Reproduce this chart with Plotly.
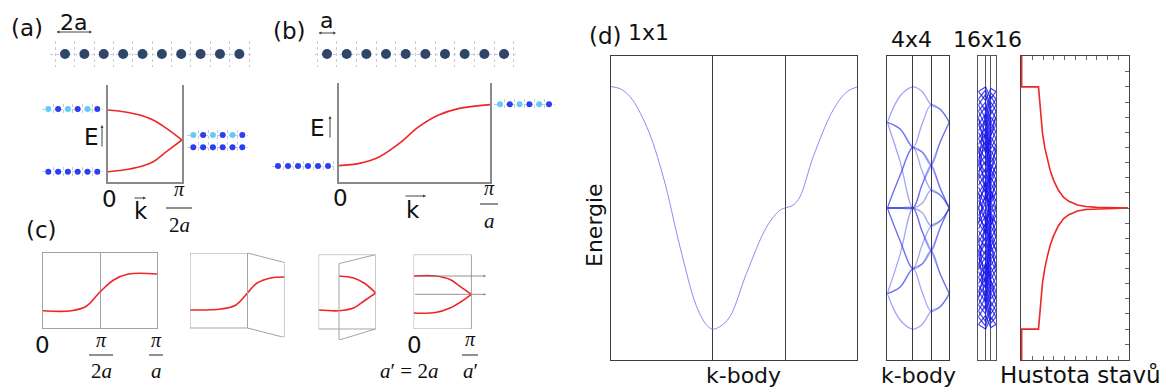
import plotly.graph_objects as go

W, H = 1162, 390
SANS = "DejaVu Sans"
SERIF = "Liberation Serif"
RED = "#ee2626"
NAVY = "#2f4668"
BLUE = "#2b3ff0"
CYAN = "#62cdf4"
GRID = "#c3ccd8"
COL = {"n": NAVY, "b": BLUE, "c": CYAN}

# ---------------- data ----------------
# (a) chain with period 2a : k in units of pi/2a, E in box units
a_k = [0, 0.207, 0.43, 0.61, 0.79, 1.0]
a_upper = [0.742, 0.725, 0.691, 0.639, 0.553, 0.433]
a_lower = [0.106, 0.124, 0.158, 0.209, 0.313, 0.433]
# (b) chain with period a : k in units of pi/a
b_k = [0, 0.137, 0.27, 0.40, 0.53, 0.66, 0.79, 1.0]
b_E = [0.167, 0.19, 0.257, 0.39, 0.558, 0.675, 0.74, 0.78]
# (c) band folding steps
c1_k = [0, 0.25, 0.38, 0.5, 0.62, 0.75, 1.0]
c1_E = [0.23, 0.23, 0.29, 0.48, 0.64, 0.72, 0.72]
c2_x = [0, 0.27, 0.40, 0.5, 0.583, 0.704, 0.8226]
c2_E = [0.24, 0.253, 0.307, 0.467, 0.60, 0.667, 0.68]
c3_x_low = [0, 0.179, 0.306, 0.398, 0.5]
c3_E_low = [0.255, 0.246, 0.282, 0.376, 0.484]
c3_x_up = [0.179, 0.306, 0.398, 0.5]
c3_E_up = [0.712, 0.685, 0.618, 0.484]
c4_k = [0, 0.191, 0.315, 0.407, 0.5]
c4_upper = [0.712, 0.712, 0.664, 0.567, 0.466]
c4_lower = [0.215, 0.222, 0.282, 0.363, 0.466]
# atom chains (colours of the atoms)
chain_main = ["n"] * 10
chain_alt = ["c", "b", "c", "b", "c", "b"]
chain_same = ["b"] * 6

# (d) 1x1 band along M-Gamma-X-M (path length in units of pi)
kpath_ticks = [1.414, 2.414]
d1_s = [0, 0.129, 0.267, 0.498, 0.728, 0.959, 1.19, 1.33, 1.412, 1.51, 1.65,
        1.88, 2.16, 2.344, 2.414, 2.528, 2.62, 2.805, 3.08, 3.27, 3.414]
d1_E = [4.01, 3.94, 3.68, 2.69, 1.03, -1.28, -3.26, -3.87, -4.0, -3.92, -3.59,
        -2.16, -0.62, -0.07, 0.0, 0.10, 0.37, 1.70, 3.24, 3.84, 4.0]

# 4x4 folded bands at M', mid, Gamma, mid, X', mid, M'
d4_s = [0, 0.707, 1.414, 1.914, 2.414, 2.914, 3.414]
d4_bands = [
    [-2.83, -3.70, -4.00, -3.85, -3.41, -3.26, -2.83],
    [0.00, -1.08, -2.00, -1.85, -1.41, -0.65, 0.00],
    [0.00, -1.08, -2.00, -1.23, -0.59, -0.43, 0.00],
    [0.00, 0.00, 0.00, 0.15, 0.59, 0.43, 0.00],
    [0.00, 0.00, 0.00, -0.15, -0.59, -0.43, 0.00],
    [-2.83, -2.61, -2.00, -1.85, -1.41, -2.18, -2.83],
    [-2.83, -2.61, -2.00, -2.77, -3.41, -3.26, -2.83],
    [2.83, 1.53, 0.00, 0.77, 1.41, 2.18, 2.83],
    [2.83, 2.61, 2.00, 2.77, 3.41, 3.26, 2.83],
    [2.83, 2.61, 2.00, 1.85, 1.41, 2.18, 2.83],
    [0.00, 0.00, 0.00, 0.77, 1.41, 0.65, 0.00],
    [0.00, 0.00, 0.00, -0.77, -1.41, -0.65, 0.00],
    [2.83, 3.70, 4.00, 3.85, 3.41, 3.26, 2.83],
    [0.00, 1.08, 2.00, 1.85, 1.41, 0.65, 0.00],
    [0.00, 1.08, 2.00, 1.23, 0.59, 0.43, 0.00],
    [-2.83, -1.53, 0.00, -0.77, -1.41, -2.18, -2.83],
]

# 16x16 folded bands at M', Gamma, X', M'
d16_s = [0, 1.414, 2.414, 3.414]
d16_bands = [
    [3.85, 4.00, 3.60, 3.85], [3.85, 3.55, 3.95, 3.85], [3.40, 3.75, 3.10, 3.40],
    [3.40, 2.95, 3.70, 3.40], [3.00, 3.35, 2.60, 3.00], [2.95, 2.50, 3.25, 2.95],
    [2.55, 2.90, 2.15, 2.55], [2.50, 2.05, 2.80, 2.50], [2.10, 2.45, 1.70, 2.10],
    [2.05, 1.60, 2.35, 2.05], [1.65, 2.00, 1.25, 1.65], [1.60, 1.15, 1.90, 1.60],
    [1.20, 1.55, 0.80, 1.20], [1.15, 0.70, 1.45, 1.15], [0.75, 1.10, 0.35, 0.75],
    [0.70, 0.25, 1.00, 0.70], [0.30, 0.65, -0.10, 0.30], [0.25, -0.15, 0.55, 0.25],
    [0.00, 0.35, 0.15, 0.00], [0.00, -0.35, -0.15, 0.00], [-0.25, 0.15, -0.55, -0.25],
    [-0.30, -0.65, 0.10, -0.30], [-0.70, -0.25, -1.00, -0.70], [-0.75, -1.10, -0.35, -0.75],
    [-1.15, -0.70, -1.45, -1.15], [-1.20, -1.55, -0.80, -1.20], [-1.60, -1.15, -1.90, -1.60],
    [-1.65, -2.00, -1.25, -1.65], [-2.05, -1.60, -2.35, -2.05], [-2.10, -2.45, -1.70, -2.10],
    [-2.50, -2.05, -2.80, -2.50], [-2.55, -2.90, -2.15, -2.55], [-2.95, -2.50, -3.25, -2.95],
    [-3.00, -3.35, -2.60, -3.00], [-3.40, -2.95, -3.70, -3.40], [-3.40, -3.75, -3.10, -3.40],
    [-3.85, -3.55, -3.95, -3.85], [-3.85, -4.00, -3.60, -3.85],
    [2.00, 0.50, 1.20, 2.00], [-2.00, -0.50, -1.20, -2.00], [1.00, 2.60, 0.20, 1.00],
    [-1.00, -2.60, -0.20, -1.00], [0.50, -0.50, 0.30, 0.50], [-0.50, 0.50, -0.30, -0.50],
    [0.00, 0.90, -0.60, 0.00], [0.00, -0.90, 0.60, 0.00], [3.00, 1.80, 2.40, 3.00],
    [-3.00, -1.80, -2.40, -3.00], [1.40, 3.20, 0.90, 1.40], [-1.40, -3.20, -0.90, -1.40],
    [3.60, 3.20, 3.80, 3.60], [3.60, 3.90, 3.30, 3.60], [3.20, 2.70, 3.50, 3.20],
    [3.20, 3.50, 2.80, 3.20], [2.75, 2.30, 3.00, 2.75], [2.75, 3.10, 2.40, 2.75],
    [2.30, 1.85, 2.60, 2.30], [2.30, 2.65, 1.95, 2.30], [1.85, 1.40, 2.15, 1.85],
    [1.85, 2.20, 1.50, 1.85], [1.40, 0.95, 1.70, 1.40], [1.40, 1.75, 1.05, 1.40],
    [0.95, 0.50, 1.25, 0.95], [0.95, 1.30, 0.60, 0.95], [0.50, 0.10, 0.80, 0.50],
    [0.50, 0.85, 0.15, 0.50],
    [-3.60, -3.20, -3.80, -3.60], [-3.60, -3.90, -3.30, -3.60], [-3.20, -2.70, -3.50, -3.20],
    [-3.20, -3.50, -2.80, -3.20], [-2.75, -2.30, -3.00, -2.75], [-2.75, -3.10, -2.40, -2.75],
    [-2.30, -1.85, -2.60, -2.30], [-2.30, -2.65, -1.95, -2.30], [-1.85, -1.40, -2.15, -1.85],
    [-1.85, -2.20, -1.50, -1.85], [-1.40, -0.95, -1.70, -1.40], [-1.40, -1.75, -1.05, -1.40],
    [-0.95, -0.50, -1.25, -0.95], [-0.95, -1.30, -0.60, -0.95], [-0.50, -0.10, -0.80, -0.50],
    [-0.50, -0.85, -0.15, -0.50],
]

# density of states (E, DOS)
dos_E_up = [5.02, 4.0, 4.0, 3.24, 2.48, 2.0, 1.59, 1.25, 0.93, 0.60, 0.36, 0.22, 0.10, 0.05, 0.02, 0.0]
dos_D_up = [0, 0, 0.157, 0.176, 0.194, 0.215, 0.24, 0.265, 0.296, 0.34, 0.389, 0.44, 0.52, 0.60, 0.70, 0.99]
dos_E_dn = [-0.0, -0.02, -0.05, -0.10, -0.22, -0.36, -0.60, -0.93, -1.25, -1.59, -2.0, -2.48, -3.24, -4.0, -4.0, -5.02]
dos_D_dn = [0.99, 0.70, 0.60, 0.52, 0.44, 0.389, 0.34, 0.296, 0.265, 0.24, 0.215, 0.194, 0.176, 0.157, 0, 0]

# ---------------- figure scaffolding ----------------
fig = go.Figure()
layout = dict(width=W, height=H, margin=dict(l=0, r=0, t=0, b=0),
              paper_bgcolor="white", plot_bgcolor="white", showlegend=False,
              annotations=[], shapes=[])
BASE = dict(showgrid=False, zeroline=False, showticklabels=False, ticks="",
            showline=False, fixedrange=True)
counter = [0]


def px_x(x):
    return x / W


def px_y(y):
    return 1 - y / H


def new_axes(box, xr, yr, xo=None, yo=None):
    x0, y0, x1, y1 = box
    counter[0] += 1
    n = counter[0]
    sfx = "" if n == 1 else str(n)
    xa = dict(BASE, domain=[px_x(x0), px_x(x1)], range=xr, anchor="y" + sfx)
    ya = dict(BASE, domain=[px_y(y1), px_y(y0)], range=yr, anchor="x" + sfx)
    if xo:
        xa.update(xo)
    if yo:
        ya.update(yo)
    layout["xaxis" + sfx] = xa
    layout["yaxis" + sfx] = ya
    return "x" + sfx, "y" + sfx


def line_trace(x, y, xa, ya, color=RED, width=1.6, shape="spline"):
    fig.add_trace(go.Scatter(x=x, y=y, mode="lines", xaxis=xa, yaxis=ya,
                             line=dict(color=color, width=width, shape=shape),
                             hoverinfo="skip"))


def chain(first, spacing, yc, colors, size, half_h, pad):
    n = len(colors)
    x0 = first - pad * spacing
    x1 = first + (n - 1 + pad) * spacing
    xr = [-pad, n - 1 + pad]
    grid = dict(showgrid=True, gridcolor=GRID, griddash="dot", gridwidth=1)
    xa, ya = new_axes((x0, yc - half_h, x1, yc + half_h), xr, [-1, 1],
                      xo=dict(grid, tickvals=[i - 0.5 for i in range(n + 1)]),
                      yo=dict(grid, tickvals=[0]))
    fig.add_trace(go.Scatter(x=list(range(n)), y=[0] * n, mode="markers",
                             xaxis=xa, yaxis=ya, hoverinfo="skip",
                             marker=dict(size=size, color=[COL[c] for c in colors],
                                         line=dict(width=0))))
    return xa, ya


def txt(x, y, s, size=21, family=SANS, angle=0, color="#111"):
    layout["annotations"].append(dict(
        x=px_x(x), y=px_y(y), xref="paper", yref="paper", text=s, showarrow=False,
        font=dict(family=family, size=size, color=color), xanchor="center",
        yanchor="middle", textangle=angle))


def arrow(x, y, ax, ay, both=False, color="#444", size=0.6):
    layout["annotations"].append(dict(
        x=px_x(x), y=px_y(y), xref="paper", yref="paper", ax=ax, ay=ay,
        showarrow=True, text="", arrowhead=2, arrowsize=size, arrowwidth=1,
        arrowcolor=color, arrowside="end+start" if both else "end",
        standoff=0, startstandoff=0))


def frac(xc, y_num, y_bar, y_den, half, num, den, size=20):
    txt(xc, y_num, num, size, SERIF)
    layout["shapes"].append(dict(type="line", xref="paper", yref="paper",
                                 x0=px_x(xc - half), x1=px_x(xc + half),
                                 y0=px_y(y_bar), y1=px_y(y_bar),
                                 line=dict(color="#222", width=1)))
    txt(xc, y_den, den, size + 1, SERIF)


AX_A = dict(showline=True, linecolor="#8a8a8a", linewidth=1.6)
BOX_C = dict(showline=True, mirror=True, linecolor="#a3a3a3", linewidth=1)
FRAME_C = dict(color="#a3a3a3", width=1)

# ---------------- panel (a) ----------------
chain(65, 19.37, 54, chain_main, 10, 13, 0.78)
chain(48.3, 9.8, 109, chain_alt, 6, 5, 0.6)
chain(48.3, 9.8, 171.7, chain_same, 6, 5, 0.6)
chain(193.3, 9.8, 135, chain_alt, 6, 5, 0.6)
chain(193.3, 9.8, 147.3, chain_same, 6, 5, 0.6)
xa, ya = new_axes((108, 85, 182, 182), [0, 1], [0, 1], xo=AX_A,
                  yo=dict(AX_A, mirror=True))
line_trace(a_k, a_upper, xa, ya)
line_trace(a_k, a_lower, xa, ya)
txt(27, 28, "(a)", 23)
txt(73, 22, "2a", 22)
arrow(92, 32, -37, 0, both=True)
txt(91, 137, "E", 23)
arrow(102, 125, 0, 23)
txt(109, 199, "0", 23)
txt(141, 211, "k", 23)
arrow(146, 198, -13, 0)
frac(179, 189, 208, 225, 13, "<i>π</i>", "2<i>a</i>")

# ---------------- panel (b) ----------------
chain(327, 19.67, 54, chain_main, 10, 13, 0.62)
chain(278, 10, 166, chain_same, 6, 5, 0.6)
chain(500, 9.8, 104.3, chain_alt, 6, 5, 0.6)
xa, ya = new_axes((338.7, 82.7, 490, 182.3), [0, 1], [0, 1], xo=AX_A,
                  yo=dict(AX_A, mirror=True))
line_trace(b_k, b_E, xa, ya)
txt(289, 31, "(b)", 23)
txt(326, 20, "a", 22)
arrow(336, 33, -19, 0, both=True)
txt(317, 128, "E", 23)
arrow(330, 116, 0, 23)
txt(340, 198, "0", 23)
txt(413, 210, "k", 23)
arrow(426, 196, -22, 0)
frac(489, 188, 204, 221, 9, "<i>π</i>", "<i>a</i>")

# ---------------- panel (c) ----------------
txt(41, 230, "(c)", 23)
xa, ya = new_axes((43, 253, 157, 328), [0, 1], [0, 1],
                  xo=dict(BOX_C, showgrid=True, tickvals=[0.5], gridcolor="#a3a3a3", gridwidth=1),
                  yo=BOX_C)
line_trace(c1_k, c1_E, xa, ya)

FOLD2 = 0.8226
SHIFT2 = 0.1267
xa, ya = new_axes((190, 253, 284.6, 337.5), [0, FOLD2], [-SHIFT2, 1])
layout["shapes"].append(dict(type="rect", xref=xa, yref=ya, x0=0, x1=0.5, y0=0, y1=1,
                             line=FRAME_C))
layout["shapes"].append(dict(type="path", xref=xa, yref=ya, line=FRAME_C,
                             path=f"M 0.5,1 L {FOLD2},{1 - SHIFT2} L {FOLD2},{-SHIFT2} L 0.5,0"))
line_trace(c2_x, c2_E, xa, ya)

FOLD3 = 0.179
SHIFT3 = 0.148
xa, ya = new_axes((318.6, 254.6, 375.7, 340), [0, 0.5], [-SHIFT3, 1])
layout["shapes"].append(dict(type="rect", xref=xa, yref=ya, x0=0, x1=0.5, y0=0, y1=1,
                             line=FRAME_C))
layout["shapes"].append(dict(type="path", xref=xa, yref=ya, line=FRAME_C,
                             path=f"M 0.5,1 L {FOLD3},{1 - 0.121} L {FOLD3},{-SHIFT3} L 0.5,0"))
line_trace(c3_x_low, c3_E_low, xa, ya)
line_trace(c3_x_up, c3_E_up, xa, ya)

xa, ya = new_axes((413.6, 254.6, 487, 329), [0, 0.635], [0, 1])
layout["shapes"].append(dict(type="rect", xref=xa, yref=ya, x0=0, x1=0.5, y0=0, y1=1,
                             line=FRAME_C))
for e in (c4_upper[0], c4_lower[-1]):
    layout["annotations"].append(dict(
        x=0.626, y=e, xref=xa, yref=ya, axref=xa, ayref=ya, ax=0, ay=e, text="",
        showarrow=True, arrowhead=2, arrowsize=0.6, arrowwidth=0.8, arrowcolor="#777",
        standoff=0))
line_trace(c4_k, c4_upper, xa, ya)
line_trace(c4_k, c4_lower, xa, ya)

txt(42, 345, "0", 23)
frac(101, 340, 355, 371, 12, "<i>π</i>", "2<i>a</i>")
frac(156, 340, 355, 371, 7, "<i>π</i>", "<i>a</i>")
txt(414, 345, "0", 23)
frac(470, 339, 355, 371, 8, "<i>π</i>", "<i>a</i>′")
txt(409, 371, "<i>a</i>′ = 2<i>a</i>", 21, SERIF)

# ---------------- panel (d) ----------------
BOX_D = dict(showline=True, mirror=True, linecolor="#3c3c3c", linewidth=1.2)
VL_D = dict(showgrid=True, tickvals=kpath_ticks, gridcolor="#3c3c3c", gridwidth=1.2)
ER = [-5.02, 5.02]
xa, ya = new_axes((610.7, 56, 857.3, 360), [0, 3.414], ER, xo=dict(BOX_D, **VL_D), yo=BOX_D)
line_trace(d1_s, d1_E, xa, ya, color="rgba(120,120,235,0.85)", width=1)

xa, ya = new_axes((887.3, 56, 949.3, 360), [0, 3.414], ER, xo=dict(BOX_D, **VL_D), yo=BOX_D)
for band in d4_bands:
    line_trace(d4_s, band, xa, ya, color="rgba(30,40,235,0.42)", width=1.3)

BOX_16 = dict(showline=True, mirror=True, linecolor="#555", linewidth=1)
xa, ya = new_axes((978.3, 56, 996, 360), [0, 3.414], ER,
                  xo=dict(BOX_16, showgrid=True, tickvals=kpath_ticks, gridcolor="#555", gridwidth=1),
                  yo=BOX_16)
for band in d16_bands:
    line_trace(d16_s, band, xa, ya, color="rgba(20,20,240,0.78)", width=1.2, shape="linear")

xa, ya = new_axes((1021, 56, 1129, 360), [-0.006, 1.0], ER,
                  xo=dict(showline=True, mirror="ticks", linecolor="#444", linewidth=1.2,
                          ticks="inside", ticklen=4, tickwidth=1, tickcolor="#666",
                          tick0=0, dtick=0.1),
                  yo=dict(showline=True, mirror=True, linecolor="#444", linewidth=1.2,
                          side="right", ticks="inside", ticklen=4, tickwidth=1,
                          tickcolor="#666", tick0=0, dtick=0.5))
line_trace(dos_D_up, dos_E_up, xa, ya, color=RED, width=1.6, shape="linear")
line_trace(dos_D_dn, dos_E_dn, xa, ya, color=RED, width=1.6, shape="linear")

txt(605, 36, "(d)", 23)
txt(648, 32, "1x1", 22)
txt(911, 40, "4x4", 22)
txt(988, 40, "16x16", 22)
txt(595, 225, "Energie", 22, angle=-90)
txt(743, 375, "k-body", 22)
txt(918, 375, "k-body", 22)
txt(1080, 375, "Hustota stavů", 23)

fig.update_layout(**layout)
fig.write_html("out.html", config={"displayModeBar": False},
               post_script="document.body.style.margin='0px';document.body.style.overflow='hidden';")
